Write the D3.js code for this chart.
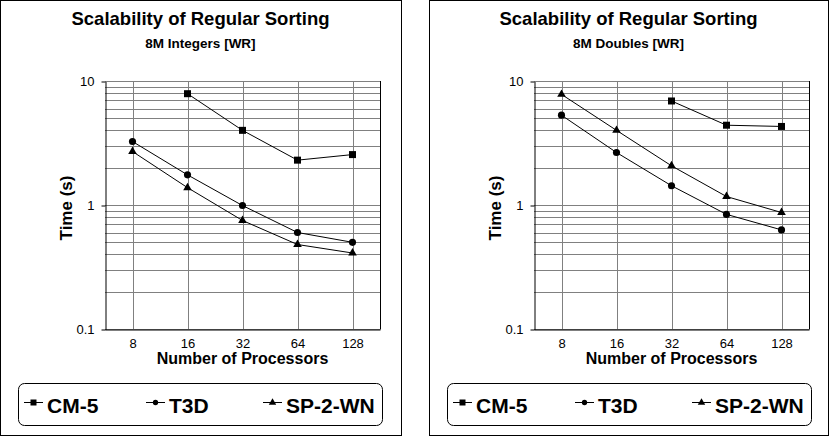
<!DOCTYPE html>
<html>
<head>
<meta charset="utf-8">
<script src="https://cdn.jsdelivr.net/npm/d3@7"></script>
<style>
  body { margin: 0; background: #fff; }
  svg { display: block; font-family: "Liberation Sans", Arial, sans-serif; }
</style>
</head>
<body>
<div class="container"></div>
<script>
var processors = ['8', '16', '32', '64', '128'];
var seriesNames = ['CM-5', 'T3D', 'SP-2-WN'];
var timeTicks = [0.1, 1, 10];

// 8M integers
var intCM5 = [null, 7.9, 4.0, 2.3, 2.55];
var intT3D = [3.25, 1.75, 0.99, 0.6, 0.5];
var intSP2 = [2.7, 1.38, 0.75, 0.48, 0.41];

// 8M doubles
var dblCM5 = [null, null, 6.9, 4.4, 4.3];
var dblT3D = [5.3, 2.65, 1.43, 0.84, 0.63];
var dblSP2 = [7.8, 4.0, 2.07, 1.17, 0.87];

var panels = [
  {left: 0, width: 401, subtitle: '8M Integers [WR]', series: [intCM5, intT3D, intSP2]},
  {left: 429, width: 399, subtitle: '8M Doubles [WR]', series: [dblCM5, dblT3D, dblSP2]}
];

var symbols = [d3.symbolSquare, d3.symbolCircle, d3.symbolTriangle];
var markSize = [49, 40, 32];
var keySize = [36, 22, 24];

var svg = d3.select('.container').append('svg')
  .attr('width', 830)
  .attr('height', 437);

function drawPanel(p) {
  var g = svg.append('g');
  var px0 = p.left + 105, px1 = px0 + 275;
  var py0 = 81, py1 = 329;

  g.append('rect')
    .attr('x', p.left + 0.5).attr('y', 0.5)
    .attr('width', p.width).attr('height', 435)
    .attr('fill', 'none').attr('stroke', '#000');

  g.append('text')
    .attr('x', p.left + p.width / 2).attr('y', 25)
    .attr('text-anchor', 'middle')
    .style('font-size', '18.5px').style('font-weight', 'bold')
    .text('Scalability of Regular Sorting');

  g.append('text')
    .attr('x', p.left + p.width / 2).attr('y', 48)
    .attr('text-anchor', 'middle')
    .style('font-size', '13.5px').style('font-weight', 'bold')
    .text(p.subtitle);

  var x = d3.scalePoint().domain(processors).range([px0, px1]).padding(0.5);
  var y = d3.scaleLog().domain([0.1, 10]).range([py1, py0]);

  // grid
  g.append('g').selectAll('line.h')
    .data(y.ticks())
    .enter().append('line')
    .attr('x1', px0).attr('x2', px1)
    .attr('y1', function (d) { return Math.round(y(d)) + 0.5; })
    .attr('y2', function (d) { return Math.round(y(d)) + 0.5; })
    .attr('stroke', '#808080');

  g.append('g').selectAll('line.v')
    .data(processors)
    .enter().append('line')
    .attr('x1', function (d) { return Math.round(x(d)) + 0.5; })
    .attr('x2', function (d) { return Math.round(x(d)) + 0.5; })
    .attr('y1', py0).attr('y2', py1)
    .attr('stroke', '#808080');

  g.append('line')
    .attr('x1', px1 + 0.5).attr('x2', px1 + 0.5)
    .attr('y1', py0).attr('y2', py1 + 0.5)
    .attr('stroke', '#000');

  var yAxis = g.append('g')
    .attr('transform', 'translate(' + (px0 + 0.5) + ',0.5)')
    .call(d3.axisLeft(y).tickValues(timeTicks).tickFormat(d3.format('~g'))
      .tickSize(4).tickSizeOuter(0).tickPadding(7));

  var xAxis = g.append('g')
    .attr('transform', 'translate(0,' + (py1 + 0.5) + ')')
    .call(d3.axisBottom(x).tickSize(0).tickSizeOuter(0).tickPadding(9));

  [yAxis, xAxis].forEach(function (a) {
    a.select('.domain').attr('stroke', '#000');
    a.selectAll('.tick line').attr('stroke', '#000');
    a.selectAll('.tick text')
      .attr('fill', '#000')
      .style('font-size', '13px')
      .style('font-family', '"Liberation Sans", Arial, sans-serif');
  });

  g.append('text')
    .attr('transform', 'translate(' + (px0 - 33) + ',' + ((py0 + py1) / 2 + 3) + ') rotate(-90)')
    .attr('text-anchor', 'middle')
    .style('font-size', '17px').style('font-weight', 'bold')
    .text('Time (s)');

  g.append('text')
    .attr('x', (px0 + px1) / 2).attr('y', 364)
    .attr('text-anchor', 'middle')
    .style('font-size', '16px').style('font-weight', 'bold')
    .text('Number of Processors');

  var line = d3.line()
    .defined(function (d) { return d != null; })
    .x(function (d, i) { return x(processors[i]); })
    .y(function (d) { return y(d); });

  p.series.forEach(function (vals, s) {
    g.append('path')
      .attr('d', line(vals))
      .attr('fill', 'none')
      .attr('stroke', '#000')
      .attr('stroke-width', 1);

    g.append('g').selectAll('path')
      .data(vals.map(function (v, i) { return {v: v, i: i}; })
        .filter(function (d) { return d.v != null; }))
      .enter().append('path')
      .attr('d', d3.symbol().type(symbols[s]).size(markSize[s]))
      .attr('transform', function (d) {
        return 'translate(' + x(processors[d.i]) + ',' + y(d.v) + ')';
      })
      .attr('fill', '#000');
  });

  // legend
  var lx = p.left + 18, ly = 383;
  g.append('rect')
    .attr('x', lx + 0.5).attr('y', ly + 0.5)
    .attr('width', 364).attr('height', 42)
    .attr('rx', 6)
    .attr('fill', 'none').attr('stroke', '#000');

  var keyX = [6, 128, 245];
  var key = g.append('g').selectAll('g')
    .data(seriesNames)
    .enter().append('g')
    .attr('transform', function (d, i) { return 'translate(' + (lx + keyX[i]) + ',' + (ly + 19) + ')'; });

  key.append('line')
    .attr('x1', 0).attr('x2', 19)
    .attr('y1', 0.5).attr('y2', 0.5)
    .attr('stroke', '#000');

  key.append('path')
    .attr('d', function (d, i) { return d3.symbol().type(symbols[i]).size(keySize[i])(); })
    .attr('transform', 'translate(9.5,0.5)')
    .attr('fill', '#000');

  key.append('text')
    .attr('x', 23).attr('y', 11)
    .style('font-size', '21px').style('font-weight', 'bold')
    .text(function (d) { return d; });
}

panels.forEach(drawPanel);
</script>
</body>
</html>
